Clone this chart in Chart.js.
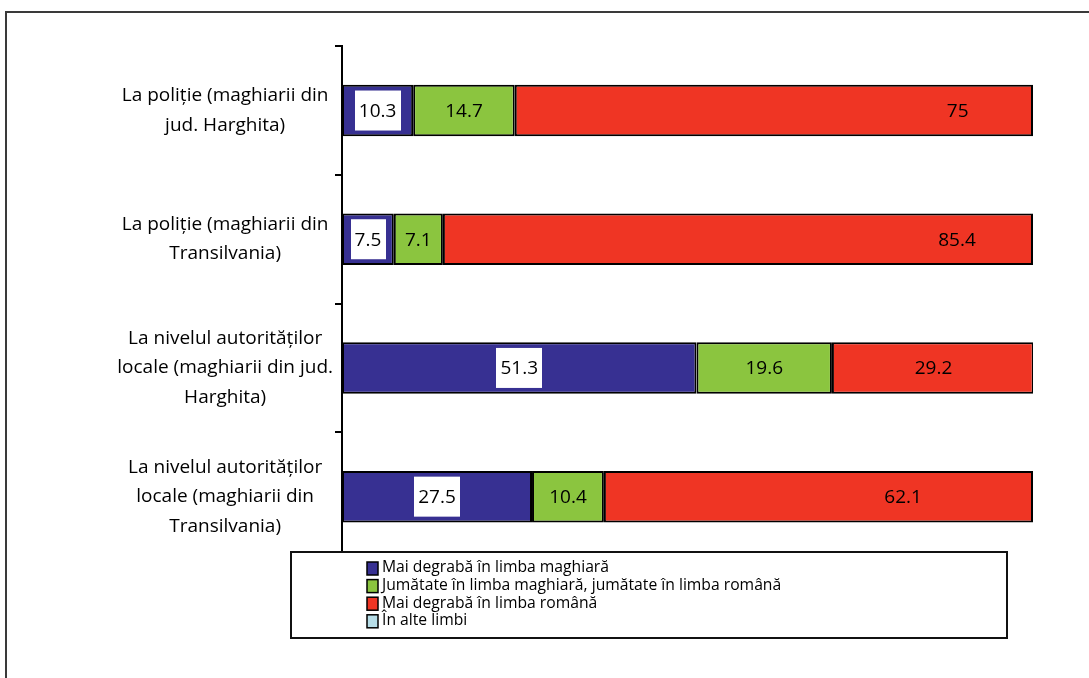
<!DOCTYPE html>
<html>
<head>
<meta charset="utf-8">
<script src="https://cdn.jsdelivr.net/npm/chart.js@4.4.1/dist/chart.umd.min.js"></script>
<style>
  html, body { margin: 0; padding: 0; background: #fff; overflow: hidden; }
  #wrap { position: relative; width: 1089px; height: 678px; }
  #myChart { position: absolute; left: 0; top: 0; }
  #frame { position: absolute; left: 5px; top: 11px; width: 1200px; height: 800px;
           border: 2px solid #3a3a3a; pointer-events: none; }
</style>
</head>
<body>
<div id="wrap">
  <canvas id="myChart" width="1089" height="678"></canvas>
  <div id="frame"></div>
</div>
<script>
// categories (top to bottom)
var categories = [
  ['La poliție (maghiarii din', 'jud. Harghita)'],
  ['La poliție (maghiarii din', 'Transilvania)'],
  ['La nivelul autorităților', 'locale (maghiarii din jud.', 'Harghita)'],
  ['La nivelul autorităților', 'locale (maghiarii din', 'Transilvania)']
];

var seriesNames = [
  'Mai degrabă în limba maghiară',
  'Jumătate în limba maghiară, jumătate în limba română',
  'Mai degrabă în limba română',
  'În alte limbi'
];

var maghiara = [10.3, 7.5, 51.3, 27.5];
var jumatate = [14.7, 7.1, 19.6, 10.4];
var romana = [75, 85.4, 29.2, 62.1];
var alte = [0, 0, 0, 0];

var colors = ['#373092', '#8bc53f', '#ef3524', '#b7dee8'];

// where excel put the red labels (in axis units), they are not all centred
var redLabelAt = [89.1, 89.0, 85.6, 81.2];

var FONT = '"Open Sans", sans-serif';

// value labels inside the bars
var barLabels = {
  id: 'barLabels',
  afterDatasetsDraw: function (chart) {
    var ctx = chart.ctx;
    var xs = chart.scales.x;
    ctx.save();
    ctx.font = '19px ' + FONT;
    ctx.textAlign = 'center';
    ctx.textBaseline = 'middle';
    for (var d = 0; d < 3; d++) {
      var meta = chart.getDatasetMeta(d);
      meta.data.forEach(function (bar, i) {
        var v = chart.data.datasets[d].data[i];
        var txt = String(v);
        var cx = (bar.x + bar.base) / 2;
        if (d == 2) cx = xs.getPixelForValue(redLabelAt[i]);
        var cy = bar.y;
        if (d == 0) {
          var w = ctx.measureText(txt).width + 8;
          ctx.fillStyle = '#fff';
          ctx.fillRect(Math.round(cx - w / 2), cy - 20, Math.round(w), 40);
        }
        ctx.fillStyle = '#000';
        ctx.fillText(txt, cx, cy + 1);
      });
    }
    ctx.restore();
  }
};

// legend box sitting over the bottom of the plot
var boxLegend = {
  id: 'boxLegend',
  afterDraw: function (chart) {
    var ctx = chart.ctx;
    ctx.save();
    ctx.fillStyle = '#fff';
    ctx.fillRect(291, 552, 716, 86);
    ctx.strokeStyle = '#111';
    ctx.lineWidth = 2;
    ctx.strokeRect(291, 552, 716, 86);
    ctx.font = '15.7px ' + FONT;
    ctx.textBaseline = 'middle';
    ctx.textAlign = 'left';
    chart.data.datasets.forEach(function (ds, i) {
      var y = 568 + i * 17.6;
      ctx.fillStyle = ds.backgroundColor;
      ctx.fillRect(367, y - 6, 11, 13);
      ctx.lineWidth = 1.5;
      ctx.strokeStyle = '#000';
      ctx.strokeRect(367, y - 6, 11, 13);
      ctx.fillStyle = '#000';
      ctx.fillText(ds.label, 382, y);
    });
    ctx.restore();
  }
};

var datasets = [maghiara, jumatate, romana, alte].map(function (vals, i) {
  return {
    label: seriesNames[i],
    data: vals,
    backgroundColor: colors[i],
    borderColor: '#000',
    borderWidth: i == 3 ? 0 : 2,
    borderSkipped: false,
    barPercentage: 1,
    categoryPercentage: 0.4
  };
});

var ctx = document.getElementById('myChart');
new Chart(ctx, {
  type: 'bar',
  data: {
    labels: categories,
    datasets: datasets
  },
  options: {
    indexAxis: 'y',
    responsive: false,
    animation: false,
    devicePixelRatio: 1,
    layout: { padding: { left: 0, right: 56, top: 42, bottom: 117 } },
    plugins: {
      legend: { display: false },
      tooltip: { enabled: false }
    },
    scales: {
      x: {
        display: false,
        stacked: true,
        min: 0,
        max: 100
      },
      y: {
        stacked: true,
        afterFit: function (scale) { scale.width = 342; },
        border: { display: true, color: '#000', width: 2 },
        grid: {
          offset: true,
          drawOnChartArea: false,
          drawTicks: true,
          tickLength: 7,
          color: '#000',
          lineWidth: 2
        },
        ticks: {
          crossAlign: 'center',
          padding: 2,
          color: '#000',
          font: { family: FONT, size: 19, lineHeight: 1.55 }
        }
      }
    }
  },
  plugins: [barLabels, boxLegend]
});
</script>
</body>
</html>
